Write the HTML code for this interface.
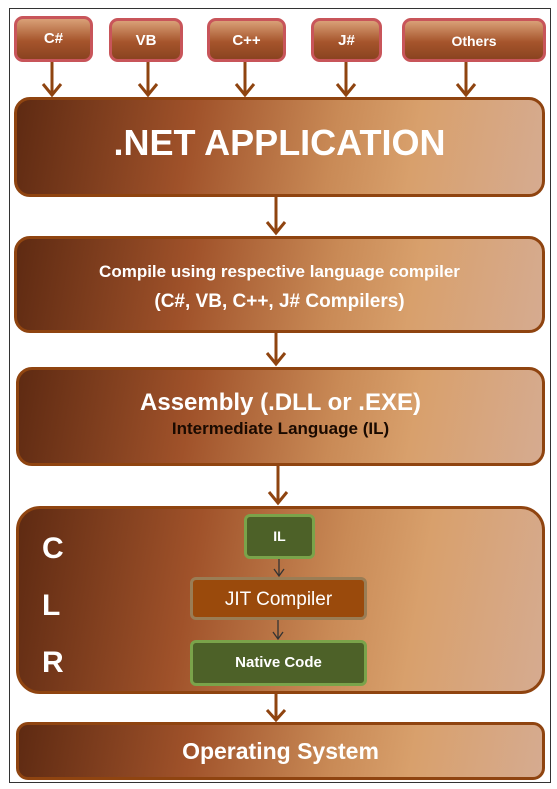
<!DOCTYPE html><html><head><style>
body{margin:0;width:557px;height:789px;background:#fff;position:relative;font-family:"Liberation Sans",sans-serif;overflow:hidden}
.frame{position:absolute;left:9px;top:8px;width:542px;height:775px;border:1px solid #333;box-sizing:border-box}
.b{position:absolute;box-sizing:border-box;border:3px solid #8f4410;border-radius:16px;background:linear-gradient(100deg,#5e2a12 0%,#a0522a 33%,#c98a56 60%,#d8a06c 75%,#d6ab90 100%);color:#fff;font-weight:bold;text-align:center}
.s{position:absolute;box-sizing:border-box;border:3px solid #c8555a;border-radius:9px;background:linear-gradient(#d9a077,#a6552c 55%,#8a4320);color:#fff;font-weight:bold;font-size:15px;text-align:center;line-height:40px}
.g{position:absolute;box-sizing:border-box;border:3px solid #7aa34a;border-radius:6px;background:#4d6128;color:#fff;font-weight:bold;text-align:center}
svg{position:absolute;left:0;top:0}
</style></head><body>
<div class="frame"></div>
<div class="s" style="left:14px;top:16px;width:79px;height:46px">C#</div>
<div class="s" style="left:109px;top:18px;width:74px;height:44px">VB</div>
<div class="s" style="left:207px;top:18px;width:79px;height:44px">C++</div>
<div class="s" style="left:311px;top:18px;width:71px;height:44px">J#</div>
<div class="s" style="left:402px;top:18px;width:144px;height:44px;font-size:14px">Others</div>
<div class="b" style="left:14px;top:97px;width:531px;height:100px;font-size:36px;line-height:86px">.NET APPLICATION</div>
<div class="b" style="left:14px;top:236px;width:531px;height:97px;font-size:17px;padding-top:18px;line-height:30px">Compile using respective language compiler<br><span style="font-size:19px">(C#, VB, C++, J# Compilers)</span></div>
<div class="b" style="left:16px;top:367px;width:529px;height:99px;padding-top:18px"><div style="font-size:24px;line-height:30px">Assembly (.DLL or .EXE)</div><div style="font-size:17px;color:#1a0a00;line-height:22px">Intermediate Language (IL)</div></div>
<div class="b" style="left:16px;top:506px;width:529px;height:188px;border-radius:24px"></div>
<div style="position:absolute;left:42px;top:520px;color:#fff;font-weight:bold;font-size:30px;line-height:57px">C<br>L<br>R</div>
<div class="g" style="left:244px;top:514px;width:71px;height:45px;font-size:14px;line-height:39px">IL</div>
<div class="g" style="left:190px;top:577px;width:177px;height:43px;background:#9a4a0c;border-color:#9a7d55;font-weight:normal;font-size:19px;line-height:40px">JIT Compiler</div>
<div class="g" style="left:190px;top:640px;width:177px;height:46px;font-size:15px;line-height:40px">Native Code</div>
<div class="b" style="left:16px;top:722px;width:529px;height:58px;border-radius:12px;font-size:23px;line-height:52px">Operating System</div>
<svg width="557" height="789" fill="none" stroke="#8f4410" stroke-width="3">
<g><path d="M52 62V95M43 84L52 95L61 84"/><path d="M148 62V95M139 84L148 95L157 84"/><path d="M245 62V95M236 84L245 95L254 84"/><path d="M346 62V95M337 84L346 95L355 84"/><path d="M466 62V95M457 84L466 95L475 84"/>
<path d="M276 197V233M267 222L276 233L285 222"/><path d="M276 333V364M267 353L276 364L285 353"/><path d="M278 466V503M269 492L278 503L287 492"/><path d="M276 694V720M267 710L276 720L285 710"/></g>
<g stroke="#333" stroke-width="1.3"><path d="M279 559V576M274 569L279 576L284 569"/><path d="M278 620V639M273 632L278 639L283 632"/></g>
</svg>
</body></html>
